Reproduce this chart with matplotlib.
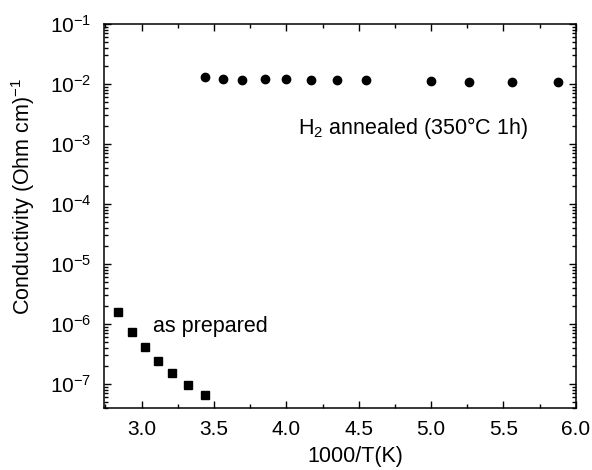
import numpy as np
import matplotlib
matplotlib.use('Agg')
import matplotlib.pyplot as plt
from matplotlib.ticker import LogLocator, MultipleLocator, NullFormatter, FixedLocator

plt.rcParams['font.family'] = ['Liberation Sans', 'DejaVu Sans']
plt.rcParams['mathtext.default'] = 'regular'

# annealed sample (circles)
x_annealed = [3.44, 3.56, 3.69, 3.85, 4.00, 4.17, 4.35, 4.55, 5.00, 5.26, 5.56, 5.88]
y_annealed = [1.31e-2, 1.21e-2, 1.18e-2, 1.20e-2, 1.20e-2, 1.18e-2, 1.17e-2, 1.15e-2,
              1.13e-2, 1.10e-2, 1.08e-2, 1.06e-2]

# as prepared sample (squares)
x_prepared = [2.84, 2.93, 3.02, 3.11, 3.21, 3.32, 3.44]
y_prepared = [1.58e-6, 7.4e-7, 4.07e-7, 2.4e-7, 1.52e-7, 9.6e-8, 6.6e-8]

y_ticks = [1e-7, 1e-6, 1e-5, 1e-4, 1e-3, 1e-2, 1e-1]

fig = plt.figure(figsize=(5.92, 4.70), dpi=100)
ax = fig.add_axes([0.1757, 0.132, 0.797, 0.817])

ax.semilogy(x_annealed, y_annealed, 'o', color='black', markersize=6)
ax.semilogy(x_prepared, y_prepared, 's', color='black', markersize=5.2)

ax.set_xlim(2.74, 6.0)
ax.set_ylim(4e-8, 1e-1)

ax.xaxis.set_major_locator(MultipleLocator(0.5))
ax.xaxis.set_minor_locator(MultipleLocator(0.25))
ax.yaxis.set_major_locator(FixedLocator(y_ticks))
ax.yaxis.set_minor_locator(LogLocator(base=10, subs=np.arange(2, 10), numticks=20))
ax.yaxis.set_minor_formatter(NullFormatter())

ax.tick_params(which='both', direction='in', right=True, top=True, labelsize=15, width=1)
ax.tick_params(which='major', length=5, pad=9)
ax.tick_params(which='minor', length=3)
for s in ax.spines.values():
    s.set_linewidth(1.1)

ax.set_xlabel('1000/T(K)', fontsize=15.5)
ax.xaxis.set_label_coords(0.532, -0.098)
ax.set_ylabel('Conductivity (Ohm cm)$^{-1}$', fontsize=15.5)
ax.yaxis.set_label_coords(-0.142, 0.55)

ax.text(3.078, 7.4e-7, 'as prepared', fontsize=15.5, va='baseline')
ax.text(4.08, 1.47e-3, 'H$_2$ annealed (350°C 1h)', fontsize=15.5, va='baseline')

fig.savefig('out.png', dpi=100)
